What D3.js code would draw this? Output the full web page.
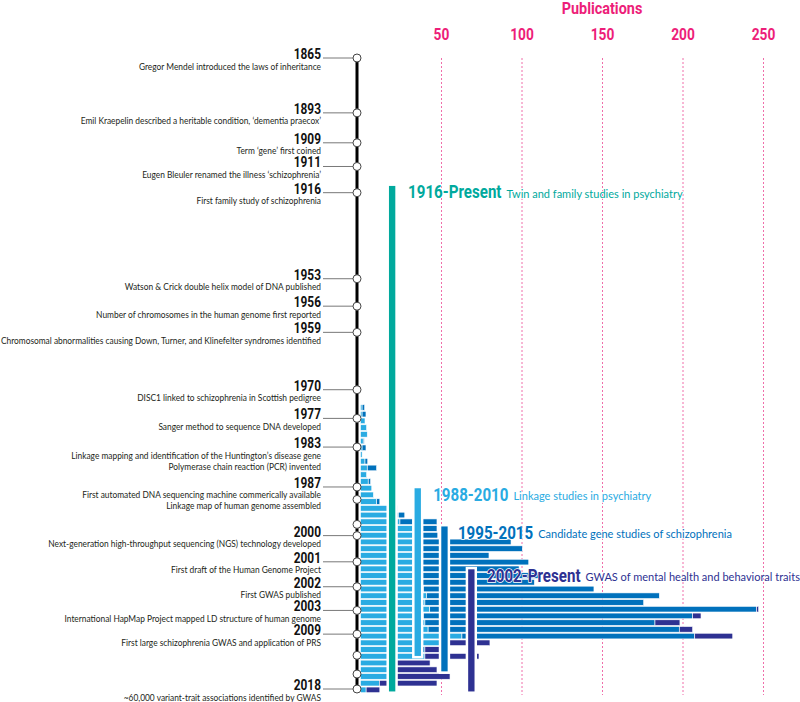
<!DOCTYPE html>
<html>
<head>
<meta charset="utf-8">
<script src="https://cdn.jsdelivr.net/npm/d3@7/dist/d3.min.js"></script>
<style>
    body { margin: 0; background: #fff; }
    svg { display: block; }
    .cond { font-family: Roboto, 'Liberation Sans', sans-serif; font-weight: bold; }
    .desc { font-family: Lato, 'Open Sans', sans-serif; }
</style>
</head>
<body>
<div id="graph"></div>
<script>
// publications per year, split by study design (stacked left to right)
const years = [1976, 1977, 1978, 1979, 1980, 1981, 1982, 1983, 1984, 1985,
               1986, 1987, 1988, 1989, 1990, 1991, 1992, 1993, 1994, 1995,
               1996, 1997, 1998, 1999, 2000, 2001, 2002, 2003, 2004, 2005,
               2006, 2007, 2008, 2009, 2010, 2011, 2012, 2013, 2014, 2015,
               2016, 2017, 2018];
const linkage = [1, 1, 2.8, 3.8, 4.2, 1.7, 1, 1, 2.8, 4.2,
                 3.8, 4.8, 7, 8, 10, 20, 23.5, 24.5, 33, 35,
                 36, 37, 36, 38, 37, 38, 38, 39, 41, 40,
                 43, 39, 40, 42, 63, 50, 38, 40, 20, 22,
                 18, 11.7, 3.5];
const candidate = [1.6, 2.4, 0, 0, 0, 0.6, 2.4, 0, 1.7, 5.8,
                   0, 1.5, 0, 0, 2, 3, 4, 23, 14.5, 13,
                   57.5, 63.5, 43.8, 66.5, 61.5, 74, 70, 106, 144.6, 135.9,
                   203, 167.3, 142.9, 156, 144.6, 5, 2, 0, 0, 0,
                   0, 0, 0];
const gwas = [0, 0, 0, 0, 0, 0, 0, 0, 0, 0,
              0, 0, 0, 0, 0, 0, 0, 0, 0, 0,
              0, 0, 0, 0, 0, 0, 0, 0, 0, 0,
              1.3, 5.2, 15.5, 8.3, 23.6, 25.4, 10, 33.6, 23.2, 25.5,
              37.6, 35.8, 8.5];
const tickValues = [50, 100, 150, 200, 250];

// timeline events ('' = unlabeled marker)
const eventYears = ['1865', '1893', '1909', '1911', '1916', '1953', '1956', '1959', '1970', '1977',
                    '1983', '1987', '', '', '2000', '2001', '2002', '2003', '2009', '', '', '2018'];
const eventTexts = [
    ['Gregor Mendel introduced the laws of inheritance'],
    ['Emil Kraepelin described a heritable condition, \u2018dementia praecox\u2019'],
    ['Term \u2018gene\u2019 first coined'],
    ['Eugen Bleuler renamed the illness \u2018schizophrenia\u2019'],
    ['First family study of schizophrenia'],
    ['Watson & Crick double helix model of DNA published'],
    ['Number of chromosomes in the human genome first reported'],
    ['Chromosomal abnormalities causing Down, Turner, and Klinefelter syndromes identified'],
    ['DISC1 linked to schizophrenia in Scottish pedigree'],
    ['Sanger method to sequence DNA developed'],
    ['Linkage mapping and identification of the Huntington\u2019s disease gene', 'Polymerase chain reaction (PCR) invented'],
    ['First automated DNA sequencing machine commerically available', 'Linkage map of human genome assembled'],
    [], [],
    ['Next-generation high-throughput sequencing (NGS) technology developed'],
    ['First draft of the Human Genome Project'],
    ['First GWAS published'],
    ['International HapMap Project mapped LD structure of human genome'],
    ['First large schizophrenia GWAS and application of PRS'],
    [], [],
    ['~60,000 variant-trait associations identified by GWAS']
];

// study periods
const periodNames = ['1916-Present', '1988-2010', '1995-2015', '2002-Present'];
const periodTexts = ['Twin and family studies in psychiatry', 'Linkage studies in psychiatry',
                     'Candidate gene studies of schizophrenia', 'GWAS of mental health and behavioral traits'];
const periodFrom = [1916, 1988.3, 1994, 2000.4];
const periodTo = [2019, 2013.7, 2016, 2019];

// layout (not data)
const eventSlots = [0, 4.4, 6.8, 8.7, 10.8, 17.7, 19.9, 22, 26.6, 28.9,
                    31.2, 34.4, 35.4, 37.4, 38.3, 40.4, 42.4, 44.3, 46.2, 47.9, 49.4, 50.6];
const periodSlots = [16.9, 32.8, 49.4, 66.1];
const labelGaps = [11.5, 11, 9, 11.3];
const colors = { linkage: '#29abe2', candidate: '#0071bc', gwas: '#2e3192' };
const periodColors = ['#00a99d', '#29abe2', '#0071bc', '#2e3192'];
const SQUEEZE = 0.82;   // fake a condensed face

class PublicationTimeline {
    constructor() {
        this.width = 800;
        this.height = 702;

        this.svg = d3.select('#graph').append('svg')
                    .attr('width', this.width)
                    .attr('height', this.height);

        // scales
        this.x = d3.scaleLinear()
                    .domain([0, 250])
                    .range([360.5, 763]);
        this.y = d3.scaleBand()
                    .domain(years)
                    .range([404.6, 692.7])
                    .paddingInner(0.16);
        this.yYear = d3.scaleLinear()
                    .domain([years[0], years[years.length - 1] + 1])
                    .range(this.y.range());
        this.ySlot = d3.scaleLinear()
                    .domain([0, 50.6])
                    .range([58, 689]);

        this.drawAxis();
        this.drawBars();
        this.drawTimeline();
        this.drawPeriods();
    }

    drawAxis() {
        const axis = d3.axisTop(this.x)
                    .tickValues(tickValues)
                    .tickSize(-637)
                    .tickPadding(18);
        const g = this.svg.append('g')
                    .attr('transform', 'translate(0,58)')
                    .call(axis);
        g.select('.domain').remove();
        g.selectAll('.tick line')
            .attr('stroke', '#f06eaa')
            .attr('stroke-width', 1)
            .attr('stroke-dasharray', '2,2');
        g.selectAll('.tick text')
            .attr('class', 'cond')
            .attr('fill', '#ed1e79')
            .attr('font-size', 16)
            .attr('transform', 'scale(0.86,1)');

        this.svg.append('text')
            .attr('class', 'cond')
            .attr('transform', 'translate(' + this.x(150) + ',14) scale(0.9,1)')
            .attr('text-anchor', 'middle')
            .attr('fill', '#ed1e79')
            .attr('font-size', 16)
            .text('Publications');
    }

    drawBars() {
        const rows = years.map((yr, i) => ({
            year: yr, linkage: linkage[i], candidate: candidate[i], gwas: gwas[i]
        }));
        const series = d3.stack()
                    .keys(['linkage', 'candidate', 'gwas'])(rows);

        this.svg.append('g')
            .attr('class', 'bars')
            .selectAll('g')
            .data(series)
            .join('g')
                .attr('fill', d => colors[d.key])
            .selectAll('rect')
            .data(d => d.filter(s => s[1] - s[0] > 0))
            .join('rect')
                .attr('x', d => this.x(d[0]))
                .attr('y', d => this.y(d.data.year))
                .attr('width', d => this.x(d[1]) - this.x(d[0]))
                .attr('height', this.y.bandwidth())
                .attr('stroke', '#fff')
                .attr('stroke-width', 0.6);
    }

    drawTimeline() {
        const g = this.svg.append('g')
                    .attr('class', 'timeline');
        const lineX = 357;

        g.append('line')
            .attr('x1', lineX)
            .attr('x2', lineX)
            .attr('y1', this.ySlot(eventSlots[0]))
            .attr('y2', this.ySlot(eventSlots[eventSlots.length - 1]))
            .attr('stroke', '#000')
            .attr('stroke-width', 3);

        const ev = g.selectAll('.event')
                    .data(eventYears.map((yr, i) => ({ year: yr, lines: eventTexts[i], slot: eventSlots[i] })))
                    .join('g')
                    .attr('class', 'event')
                    .attr('transform', d => 'translate(0,' + this.ySlot(d.slot) + ')');

        ev.filter(d => d.year)
            .append('line')
            .attr('x1', 323)
            .attr('x2', lineX)
            .attr('stroke', '#555')
            .attr('stroke-width', 0.8);

        ev.filter(d => d.year)
            .append('text')
            .attr('class', 'cond')
            .attr('transform', 'translate(321,1) scale(' + SQUEEZE + ',1)')
            .attr('text-anchor', 'end')
            .attr('font-size', 14.5)
            .attr('fill', '#111')
            .text(d => d.year);

        ev.selectAll('.line')
            .data(d => d.lines)
            .join('text')
            .attr('class', 'desc')
            .attr('transform', (d, i) => 'translate(321,' + (11.5 + i * 11) + ') scale(0.91,1)')
            .attr('text-anchor', 'end')
            .attr('font-size', 9.2)
            .attr('fill', '#231f20')
            .text(d => d);

        ev.append('circle')
            .attr('cx', lineX)
            .attr('r', 4)
            .attr('fill', '#fff')
            .attr('stroke', '#444')
            .attr('stroke-width', 1);
    }

    drawPeriods() {
        const w = this.x(5.5) - this.x(0);
        const teal = this.ySlot(eventSlots[eventYears.indexOf('1916')]) - 8;

        periodNames.forEach((name, i) => {
            const top = periodFrom[i] < years[0] ? teal : this.yYear(periodFrom[i]);
            const left = this.x(periodSlots[i]);
            const tx = left + w + labelGaps[i];

            this.svg.append('rect')
                .attr('x', left)
                .attr('y', top)
                .attr('width', w)
                .attr('height', this.yYear(periodTo[i]) - top)
                .attr('fill', periodColors[i])
                .attr('stroke', '#fff')
                .attr('stroke-width', 2.5);

            const head = this.svg.append('text')
                .attr('class', 'cond')
                .attr('transform', 'translate(' + tx + ',' + (top + 13.5) + ') scale(0.84,1)')
                .attr('font-size', 18)
                .attr('fill', periodColors[i])
                .attr('stroke', '#fff')
                .attr('stroke-width', 1.5)
                .attr('paint-order', 'stroke')
                .text(name);
            const headW = head.node().getComputedTextLength() * 0.84;

            this.svg.append('text')
                .attr('class', 'desc')
                .attr('x', tx + headW + 5)
                .attr('y', top + 13)
                .attr('font-size', 11)
                .attr('fill', periodColors[i])
                .attr('stroke', '#fff')
                .attr('stroke-width', 1.5)
                .attr('paint-order', 'stroke')
                .text(periodTexts[i]);
        });
    }
}

const chart = new PublicationTimeline();
</script>
</body>
</html>
